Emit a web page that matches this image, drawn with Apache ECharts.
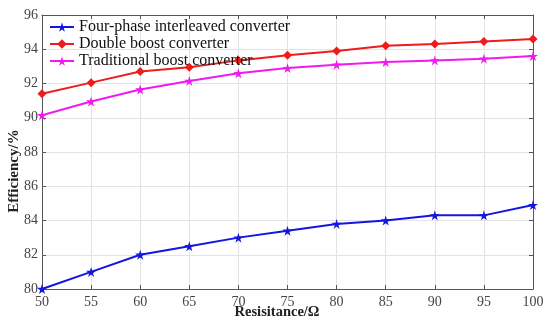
<!DOCTYPE html>
<html><head><meta charset="utf-8">
<script src="https://cdn.jsdelivr.net/npm/echarts@6/dist/echarts.min.js"></script>
<style>html,body{margin:0;padding:0;background:#fff}#c{width:550px;height:328px}</style>
</head><body><div id="c"></div>
<script>
const resistance = [50, 55, 60, 65, 70, 75, 80, 85, 90, 95, 100];
const fourPhase = [80.0, 81.0, 82.0, 82.5, 83.0, 83.4, 83.8, 84.0, 84.3, 84.3, 84.9];
const doubleBoost = [91.4, 92.05, 92.7, 92.95, 93.35, 93.65, 93.9, 94.2, 94.3, 94.45, 94.6];
const traditional = [90.15, 90.95, 91.65, 92.15, 92.6, 92.9, 93.1, 93.25, 93.35, 93.45, 93.6];
const seriesNames = ['Four-phase interleaved converter', 'Double boost converter', 'Traditional boost converter'];
const xAxisName = 'Resisitance/Ω';
const yAxisName = 'Efficiency/%';

const pairs = arr => resistance.map((x, i) => [x, arr[i]]);
const font = 'Liberation Serif';
const chart = echarts.init(document.getElementById('c'));
const axisLine = {show: true, lineStyle: {color: '#555', width: 1}};
const starPath = 'path://M50,0 L61,35 L98,35 L68,57 L79,91 L50,70 L21,91 L32,57 L2,35 L39,35 Z';
const nameStyle = {fontFamily: font, fontSize: 14.5, fontWeight: 'bold', fill: '#222', textAlign: 'center', textVerticalAlign: 'middle'};
chart.setOption({
  animation: false,
  grid: {left: 42, right: 17, top: 15, bottom: 39, containLabel: false, outerBoundsMode: 'none'},
  legend: {
    left: 44, top: 14, orient: 'vertical', itemGap: 1, itemWidth: 24, itemHeight: 12,
    textStyle: {fontFamily: font, fontSize: 16, color: '#111'},
    data: seriesNames
  },
  graphic: [
    {type: 'text', x: 277, y: 312, style: Object.assign({text: xAxisName}, nameStyle)},
    {type: 'text', x: 14, y: 171, rotation: Math.PI / 2, style: Object.assign({text: yAxisName}, nameStyle, {fontSize: 15})}
  ],
  xAxis: [{
    type: 'value', min: 50, max: 100, interval: 5,
    axisLine: axisLine, axisTick: {inside: true, length: 4, lineStyle: {color: '#555'}},
    axisLabel: {fontFamily: font, fontSize: 14, color: '#444', margin: 6},
    splitLine: {show: true, lineStyle: {color: '#e3e3e3'}}
  }, {
    type: 'value', position: 'top', min: 50, max: 100, interval: 5,
    axisLine: axisLine, axisTick: {inside: true, length: 4, lineStyle: {color: '#555'}},
    axisLabel: {show: false}, splitLine: {show: false}
  }],
  yAxis: [{
    type: 'value', min: 80, max: 96, interval: 2,
    axisLine: axisLine, axisTick: {inside: true, length: 4, lineStyle: {color: '#555'}},
    axisLabel: {fontFamily: font, fontSize: 14, color: '#444', margin: 4},
    splitLine: {show: true, lineStyle: {color: '#e3e3e3'}}
  }, {
    type: 'value', position: 'right', min: 80, max: 96, interval: 2,
    axisLine: axisLine, axisTick: {inside: true, length: 4, lineStyle: {color: '#555'}},
    axisLabel: {show: false}, splitLine: {show: false}
  }],
  series: [{
    name: seriesNames[0], type: 'line', data: pairs(fourPhase),
    symbol: starPath, symbolSize: 10, color: '#1515e0',
    lineStyle: {width: 2}
  }, {
    name: seriesNames[1], type: 'line', data: pairs(doubleBoost),
    symbol: 'diamond', symbolSize: 9, color: '#ee1c1c',
    lineStyle: {width: 2}
  }, {
    name: seriesNames[2], type: 'line', data: pairs(traditional),
    symbol: starPath, symbolSize: 10, color: '#f01af0',
    lineStyle: {width: 2}
  }]
});
</script></body></html>
